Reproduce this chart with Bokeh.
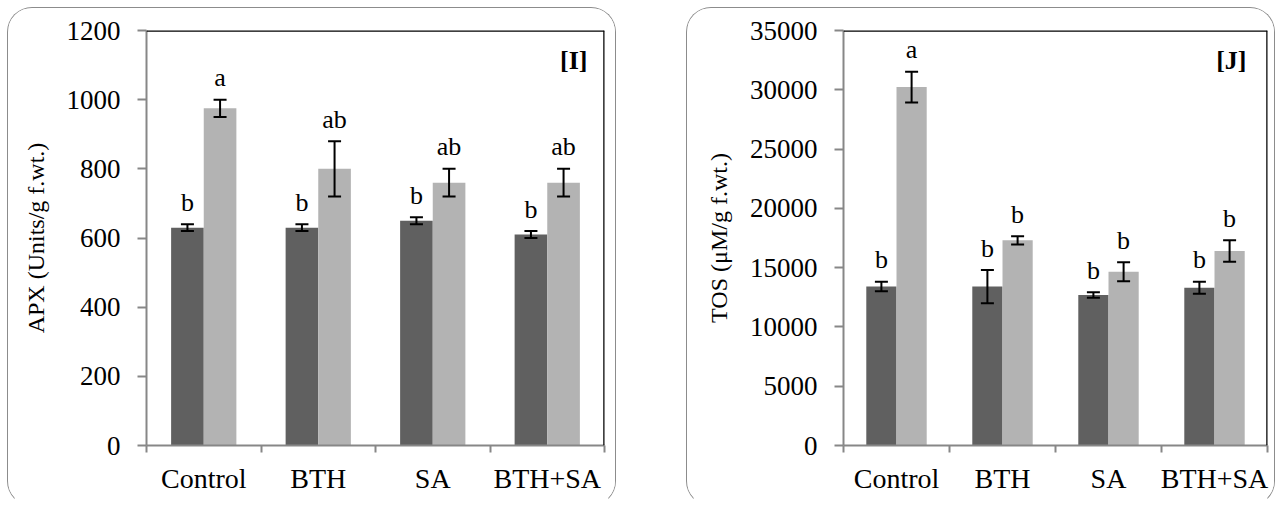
from bokeh.plotting import figure
from bokeh.models import Range1d, FixedTicker, Span, Whisker, ColumnDataSource, TeeHead, Spacer
from bokeh.layouts import row, column
from bokeh.core.properties import value
from bokeh.embed import file_html
from bokeh.resources import INLINE

# ---------------- data ----------------
categories = ["Control", "BTH", "SA", "BTH+SA"]

apx_ticks = [0, 200, 400, 600, 800, 1000, 1200]
apx_dark = [630, 630, 650, 610]
apx_dark_err = [10, 10, 10, 10]
apx_light = [975, 800, 760, 760]
apx_light_err = [25, 80, 40, 40]
apx_dark_letters = ["b", "b", "b", "b"]
apx_light_letters = ["a", "ab", "ab", "ab"]

tos_ticks = [0, 5000, 10000, 15000, 20000, 25000, 30000, 35000]
tos_dark = [13400, 13400, 12700, 13300]
tos_dark_err = [400, 1400, 230, 500]
tos_light = [30230, 17300, 14650, 16400]
tos_light_err = [1300, 350, 800, 900]
tos_dark_letters = ["b", "b", "b", "b"]
tos_light_letters = ["a", "b", "b", "b"]

# ---------------- style ----------------
FONT = "Liberation Serif"
DARK = "#606060"
LIGHT = "#b3b3b3"
GREY = "#878787"
BAR_W = 0.285


def make_panel(width, height, ml, mr, mt, mb, ticks, ylabel, tag, tag_dx,
               dark, dark_err, light, light_err, dark_letters, light_letters):
    ymax = ticks[-1]
    p = figure(width=width, height=height, x_range=Range1d(0, len(categories)),
               y_range=Range1d(0, ymax), output_backend="svg", toolbar_location=None,
               min_border_left=ml, min_border_right=mr, min_border_top=mt,
               min_border_bottom=mb,
               styles={"box-sizing": "content-box",
                       "border": "1.5px solid #8c8c8c",
                       "border-bottom-color": "transparent",
                       "border-radius": "25px", "overflow": "hidden"})
    p.xgrid.visible = False
    p.ygrid.visible = False
    p.outline_line_color = None

    n = len(categories)
    centers = [i + 0.5 for i in range(n)]
    xd = [c - BAR_W / 2 for c in centers]
    xl = [c + BAR_W / 2 for c in centers]

    p.vbar(x=xd, top=dark, width=BAR_W, fill_color=DARK, line_color=None)
    p.vbar(x=xl, top=light, width=BAR_W, fill_color=LIGHT, line_color=None)

    for xs, vals, errs, letters in ((xd, dark, dark_err, dark_letters),
                                     (xl, light, light_err, light_letters)):
        src = ColumnDataSource(dict(
            x=xs,
            upper=[v + e for v, e in zip(vals, errs)],
            lower=[v - e for v, e in zip(vals, errs)],
            lab=letters))
        w = Whisker(base="x", upper="upper", lower="lower", source=src,
                    line_color="black", line_width=2, level="overlay",
                    upper_head=TeeHead(size=13, line_width=2, line_color="black"),
                    lower_head=TeeHead(size=13, line_width=2, line_color="black"))
        p.add_layout(w)
        p.text(x="x", y="upper", text="lab", source=src, y_offset=-22,
               text_align="center", text_baseline="alphabetic",
               text_font=value(FONT), text_font_size="26px", text_color="black")

    # top / right black frame lines
    p.add_layout(Span(location=ymax, dimension="width", line_color="black", line_width=2.5))
    p.add_layout(Span(location=n, dimension="height", line_color="black", line_width=2.5))

    # panel tag
    p.text(x=[n], y=[ymax], text=[tag], x_offset=tag_dx, y_offset=15,
           text_align="right", text_baseline="top", text_font=value(FONT),
           text_font_style="bold", text_font_size="26px", text_color="black")

    # x axis
    xa = p.xaxis[0]
    xa.ticker = FixedTicker(ticks=centers, minor_ticks=list(range(n + 1)))
    xa.major_label_overrides = {c: lab for c, lab in zip(centers, categories)}
    xa.major_tick_in = 0
    xa.major_tick_out = 0
    xa.minor_tick_in = 0
    xa.minor_tick_out = 7
    xa.minor_tick_line_color = GREY
    xa.minor_tick_line_width = 2
    xa.axis_line_color = GREY
    xa.axis_line_width = 2
    xa.major_label_standoff = 10
    xa.major_label_text_font = FONT
    xa.major_label_text_font_size = "28px"
    xa.major_label_text_color = "black"

    # y axis
    ya = p.yaxis[0]
    ya.ticker = FixedTicker(ticks=ticks, minor_ticks=[])
    ya.major_tick_in = 0
    ya.major_tick_out = 9
    ya.major_tick_line_color = GREY
    ya.major_tick_line_width = 2
    ya.axis_line_color = GREY
    ya.axis_line_width = 2
    ya.major_label_standoff = 17
    ya.major_label_text_font = FONT
    ya.major_label_text_font_size = "27px"
    ya.major_label_text_color = "black"
    ya.axis_label = ylabel
    ya.axis_label_text_font = FONT
    ya.axis_label_text_font_style = "normal"
    ya.axis_label_text_font_size = "24px"
    ya.axis_label_text_color = "black"
    ya.axis_label_standoff = 15
    return p


p1 = make_panel(607, 497, 138, 13, 22, 62, apx_ticks, "APX (Units/g f.wt.)", "[I]", -17,
                apx_dark, apx_dark_err, apx_light, apx_light_err,
                apx_dark_letters, apx_light_letters)
p2 = make_panel(587, 497, 156, 9, 22, 58, tos_ticks, "TOS (\u03bcM/g f.wt.)", "[J]", -21,
                tos_dark, tos_dark_err, tos_light, tos_light_err,
                tos_dark_letters, tos_light_letters)

layout = column(Spacer(width=10, height=7),
                row(Spacer(width=7, height=10), p1, Spacer(width=70, height=10), p2))
open("out.html", "w").write(file_html(layout, INLINE))
